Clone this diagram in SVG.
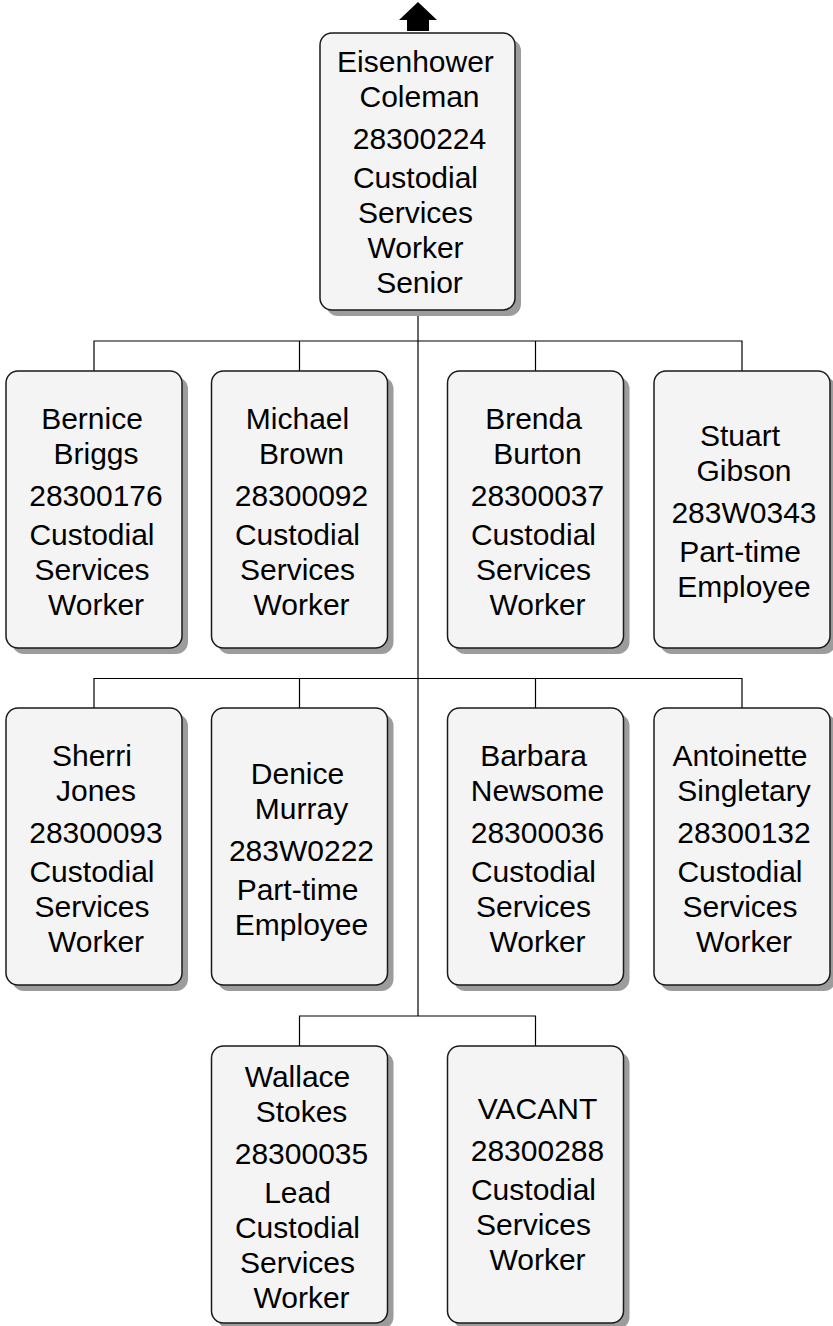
<svg xmlns="http://www.w3.org/2000/svg" width="833" height="1326" viewBox="0 0 833 1326">
<style>
.sh{fill:#9c9c9c}
.bx{fill:#f4f4f4;stroke:#1a1a1a;stroke-width:1.5}
.t{font-family:"Liberation Sans",Arial,sans-serif;font-size:30px;fill:#000;text-anchor:middle}
.c{fill:none;stroke:#000;stroke-width:1.2}
</style>
<rect width="833" height="1326" fill="#fff"/>
<g id="connectors">
<polygon points="418,2 437,20 429,20 429,31 407,31 407,20 399,20" fill="#000"/>
<path class="c" d="M418,311 V1016"/>
<path class="c" d="M94,371 V341 H742 V371 M299.5,341 V371 M535.5,341 V371"/>
<path class="c" d="M94,708 V678.5 H742 V708 M299.5,678.5 V708 M535.5,678.5 V708"/>
<path class="c" d="M299.5,1046 V1016 H535.5 V1046"/>
</g>
<g id="n0">
<rect class="sh" x="326" y="39" width="195" height="277" rx="12"/>
<rect class="bx" x="320" y="33" width="195" height="277" rx="12"/>
<text class="t"><tspan x="415.5" y="71.5">Eisenhower</tspan><tspan x="419.5" y="106.5">Coleman</tspan><tspan x="419.5" y="148.5">28300224</tspan><tspan x="415.5" y="187.5">Custodial</tspan><tspan x="415.5" y="222.5">Services</tspan><tspan x="415.5" y="257.5">Worker</tspan><tspan x="419.5" y="292.5">Senior</tspan></text>
</g>
<g id="n1">
<rect class="sh" x="12" y="377" width="176" height="277" rx="12"/>
<rect class="bx" x="6" y="371" width="176" height="277" rx="12"/>
<text class="t"><tspan x="92" y="429">Bernice</tspan><tspan x="96" y="464">Briggs</tspan><tspan x="96" y="506">28300176</tspan><tspan x="92" y="545">Custodial</tspan><tspan x="92" y="580">Services</tspan><tspan x="96" y="615">Worker</tspan></text>
</g>
<g id="n2">
<rect class="sh" x="217.5" y="377" width="176" height="277" rx="12"/>
<rect class="bx" x="211.5" y="371" width="176" height="277" rx="12"/>
<text class="t"><tspan x="297.5" y="429">Michael</tspan><tspan x="301.5" y="464">Brown</tspan><tspan x="301.5" y="506">28300092</tspan><tspan x="297.5" y="545">Custodial</tspan><tspan x="297.5" y="580">Services</tspan><tspan x="301.5" y="615">Worker</tspan></text>
</g>
<g id="n3">
<rect class="sh" x="453.5" y="377" width="176" height="277" rx="12"/>
<rect class="bx" x="447.5" y="371" width="176" height="277" rx="12"/>
<text class="t"><tspan x="533.5" y="429">Brenda</tspan><tspan x="537.5" y="464">Burton</tspan><tspan x="537.5" y="506">28300037</tspan><tspan x="533.5" y="545">Custodial</tspan><tspan x="533.5" y="580">Services</tspan><tspan x="537.5" y="615">Worker</tspan></text>
</g>
<g id="n4">
<rect class="sh" x="660" y="377" width="176" height="277" rx="12"/>
<rect class="bx" x="654" y="371" width="176" height="277" rx="12"/>
<text class="t"><tspan x="740" y="446">Stuart</tspan><tspan x="744" y="481">Gibson</tspan><tspan x="744" y="523">283W0343</tspan><tspan x="740" y="562">Part-time</tspan><tspan x="744" y="597">Employee</tspan></text>
</g>
<g id="n5">
<rect class="sh" x="12" y="714" width="176" height="277" rx="12"/>
<rect class="bx" x="6" y="708" width="176" height="277" rx="12"/>
<text class="t"><tspan x="92" y="766">Sherri</tspan><tspan x="96" y="801">Jones</tspan><tspan x="96" y="843">28300093</tspan><tspan x="92" y="882">Custodial</tspan><tspan x="92" y="917">Services</tspan><tspan x="96" y="952">Worker</tspan></text>
</g>
<g id="n6">
<rect class="sh" x="217.5" y="714" width="176" height="277" rx="12"/>
<rect class="bx" x="211.5" y="708" width="176" height="277" rx="12"/>
<text class="t"><tspan x="297.5" y="783.5">Denice</tspan><tspan x="301.5" y="818.5">Murray</tspan><tspan x="301.5" y="860.5">283W0222</tspan><tspan x="297.5" y="899.5">Part-time</tspan><tspan x="301.5" y="934.5">Employee</tspan></text>
</g>
<g id="n7">
<rect class="sh" x="453.5" y="714" width="176" height="277" rx="12"/>
<rect class="bx" x="447.5" y="708" width="176" height="277" rx="12"/>
<text class="t"><tspan x="533.5" y="766">Barbara</tspan><tspan x="537.5" y="801">Newsome</tspan><tspan x="537.5" y="843">28300036</tspan><tspan x="533.5" y="882">Custodial</tspan><tspan x="533.5" y="917">Services</tspan><tspan x="537.5" y="952">Worker</tspan></text>
</g>
<g id="n8">
<rect class="sh" x="660" y="714" width="176" height="277" rx="12"/>
<rect class="bx" x="654" y="708" width="176" height="277" rx="12"/>
<text class="t"><tspan x="740" y="766">Antoinette</tspan><tspan x="744" y="801">Singletary</tspan><tspan x="744" y="843">28300132</tspan><tspan x="740" y="882">Custodial</tspan><tspan x="740" y="917">Services</tspan><tspan x="744" y="952">Worker</tspan></text>
</g>
<g id="n9">
<rect class="sh" x="217.5" y="1052" width="176" height="277" rx="12"/>
<rect class="bx" x="211.5" y="1046" width="176" height="277" rx="12"/>
<text class="t"><tspan x="297.5" y="1086.5">Wallace</tspan><tspan x="301.5" y="1121.5">Stokes</tspan><tspan x="301.5" y="1163.5">28300035</tspan><tspan x="297.5" y="1202.5">Lead</tspan><tspan x="297.5" y="1237.5">Custodial</tspan><tspan x="297.5" y="1272.5">Services</tspan><tspan x="301.5" y="1307.5">Worker</tspan></text>
</g>
<g id="n10">
<rect class="sh" x="453.5" y="1052" width="176" height="277" rx="12"/>
<rect class="bx" x="447.5" y="1046" width="176" height="277" rx="12"/>
<text class="t"><tspan x="537.5" y="1119">VACANT</tspan><tspan x="537.5" y="1161">28300288</tspan><tspan x="533.5" y="1200">Custodial</tspan><tspan x="533.5" y="1235">Services</tspan><tspan x="537.5" y="1270">Worker</tspan></text>
</g>
</svg>
